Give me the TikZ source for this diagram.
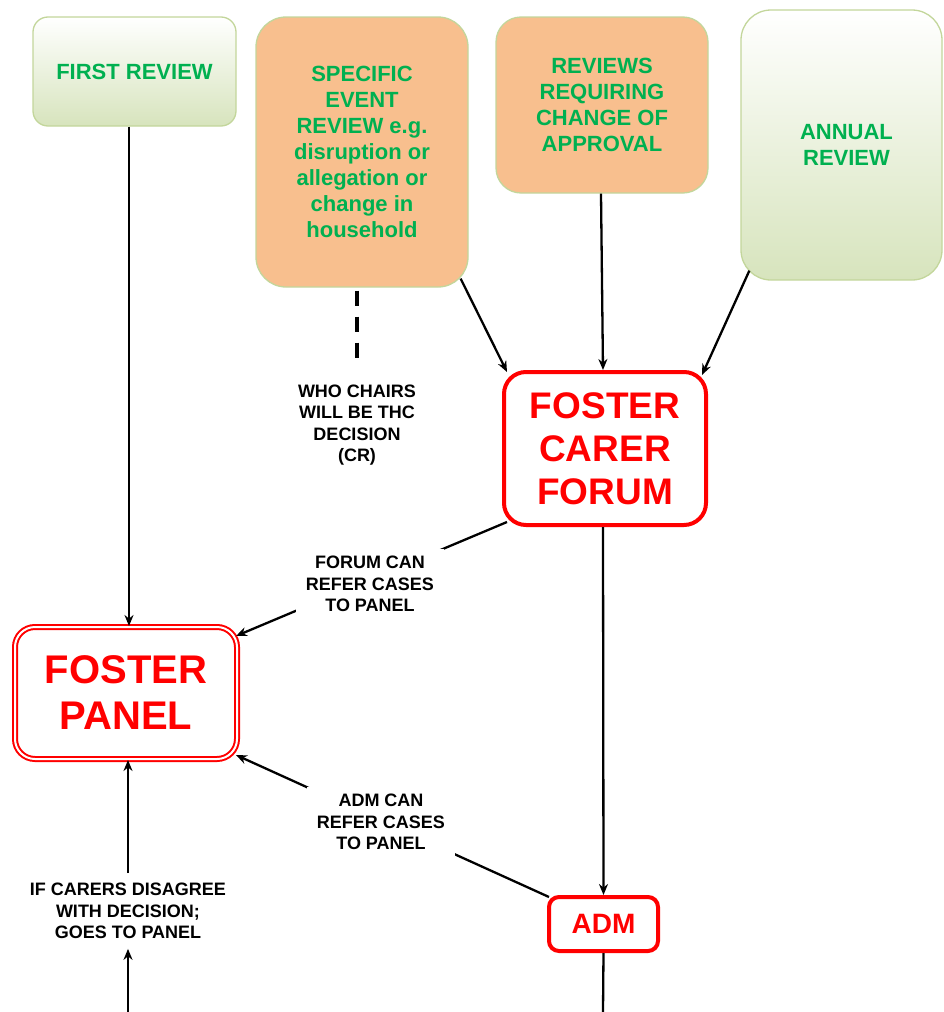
\documentclass[tikz,border=0pt]{standalone}
\usepackage{fontspec}
\setmainfont{Liberation Sans}
\usetikzlibrary{arrows.meta}
\definecolor{tgreen}{HTML}{00B050}
\definecolor{lgreen}{HTML}{D7E4BD}
\definecolor{bgreen}{HTML}{C3D69B}
\definecolor{ofill}{HTML}{F8BF8E}
\definecolor{tred}{HTML}{FF0000}
\begin{document}
\begin{tikzpicture}[x=1pt,y=-1pt,
  gbox/.style={draw=bgreen, line width=1.3pt, top color=white, bottom color=lgreen, align=center, text=tgreen, font=\fontsize{22}{26}\bfseries\selectfont, inner sep=0pt},
  obox/.style={draw=bgreen, line width=1.3pt, fill=ofill, align=center, text=tgreen, font=\fontsize{22}{26}\bfseries\selectfont, inner sep=0pt},
  rbox/.style={draw=tred, fill=white, align=center, text=tred, inner sep=0pt},
  lbl/.style={align=center, font=\fontsize{18}{21.3}\bfseries\selectfont, inner sep=0pt},
  arr/.style={-{Stealth[length=11pt,width=9pt]}, line width=2.3pt},
  conn/.style={line width=2.3pt}
]
\useasboundingbox (0,0) rectangle (944,1012);

% top boxes
\node[gbox, minimum width=203pt, minimum height=109pt, rounded corners=15pt] (first) at (134.5,71.5) {FIRST REVIEW};
\node[obox, minimum width=212pt, minimum height=270pt, rounded corners=30pt] (specific) at (362,152) {SPECIFIC\\EVENT\\REVIEW e.g.\\disruption or\\allegation or\\change in\\household};
\node[obox, minimum width=212pt, minimum height=176pt, rounded corners=25pt] (reviews) at (602,105) {REVIEWS\\REQUIRING\\CHANGE OF\\APPROVAL};
\node[gbox, minimum width=201pt, minimum height=270pt, rounded corners=30pt] (annual) at (841.5,145) {\hspace*{10pt}ANNUAL\\\hspace*{10pt}REVIEW};

% main boxes
\node[rbox, line width=4pt, minimum width=202pt, minimum height=153pt, rounded corners=22pt, font=\fontsize{37}{43}\bfseries\selectfont] (forum) at (605,448.5) {FOSTER\\CARER\\FORUM};
\node[rbox, line width=2pt, double=white, double distance=2pt, minimum width=222pt, minimum height=132pt, rounded corners=20pt, font=\fontsize{40}{46}\bfseries\selectfont] (panel) at (126,693) {FOSTER\\PANEL};
\node[rbox, line width=4pt, minimum width=109pt, minimum height=54pt, rounded corners=10pt, font=\fontsize{28}{32}\bfseries\selectfont] (adm) at (603.5,924) {ADM};

% labels
\node[lbl] (who) at (357,425) {WHO CHAIRS\\WILL BE THC\\DECISION\\(CR)};
\node[lbl, inner ysep=10pt] (carers) at (128,911) {IF CARERS DISAGREE\\WITH DECISION;\\GOES TO PANEL};

% free ends
\coordinate (dashend) at (357,365);
\coordinate (admend) at (603,1012);
\coordinate (carersstart) at (128,1012);

% connectors
\draw[arr] ([xshift=-5.5pt]first.south) -- ([xshift=3pt]panel.north);
\draw[line width=3.5pt, dash pattern=on 15pt off 11pt] ([xshift=-5pt,yshift=-3pt]specific.south) -- (dashend);
\draw[arr] ([xshift=-8pt,yshift=9pt]specific.south east) -- ([xshift=5pt,yshift=-2pt]forum.north west);
\draw[arr] ([xshift=-1pt]reviews.south) -- ([xshift=-2pt]forum.north);
\draw[arr] ([xshift=9pt,yshift=10pt]annual.south west) -- ([xshift=-6pt,yshift=-5pt]forum.north east);
\draw[arr] ([xshift=5pt,yshift=5pt]forum.south west) -- ([xshift=-2pt,yshift=-10pt]panel.north east);
\draw[arr] ([xshift=2pt,yshift=-2pt]adm.north west) -- ([xshift=-2pt,yshift=5pt]panel.south east);
\draw[arr] ([xshift=-2pt]forum.south) -- (adm.north);
\draw[conn] (adm.south) -- (admend);
\draw[arr] (carersstart) -- (carers.south);
\draw[arr] (carers.north) -- ([xshift=2pt]panel.south);

% labels on crossing lines
\node[lbl, fill=white, inner xsep=10pt, inner ysep=7pt] (forumlbl) at (370,584) {FORUM CAN\\REFER CASES\\TO PANEL};
\node[lbl, fill=white, inner xsep=10pt, inner ysep=7pt] (admlbl) at (381,822) {ADM CAN\\REFER CASES\\TO PANEL};
\end{tikzpicture}
\end{document}
